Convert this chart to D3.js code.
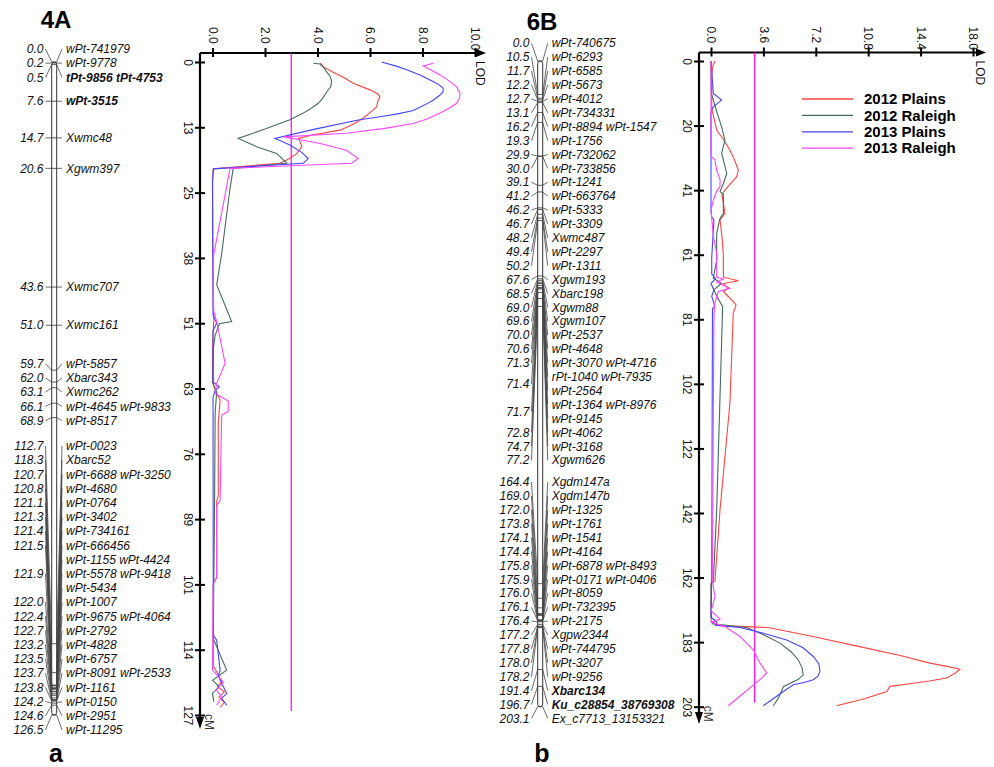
<!DOCTYPE html>
<html lang="en">
<head>
<meta charset="UTF-8">
<title>QTL for 4A and 6B</title>
<script src="https://cdn.jsdelivr.net/npm/d3@7"></script>
<style>
  body { margin: 0; background: #fff; }
  svg text { font-family: Arial, "Liberation Sans", sans-serif; }
  .mk { font-size: 12px; font-style: italic; fill: #111; }
  .tk { font-size: 12px; fill: #111; }
</style>
</head>
<body>
<svg id="chart" width="994" height="767"></svg>
<script>
// ---- linkage maps: [cM, marker row] ----
const map4A = [
  [0.0, "wPt-741979"], [0.2, "wPt-9778"], [0.5, "tPt-9856 tPt-4753"], [7.6, "wPt-3515"],
  [14.7, "Xwmc48"], [20.6, "Xgwm397"], [43.6, "Xwmc707"], [51.0, "Xwmc161"],
  [59.7, "wPt-5857"], [62.0, "Xbarc343"], [63.1, "Xwmc262"], [66.1, "wPt-4645 wPt-9833"],
  [68.9, "wPt-8517"], [112.7, "wPt-0023"], [118.3, "Xbarc52"], [120.7, "wPt-6688 wPt-3250"],
  [120.8, "wPt-4680"], [121.1, "wPt-0764"], [121.3, "wPt-3402"], [121.4, "wPt-734161"],
  [121.5, "wPt-666456"], [121.9, "wPt-1155 wPt-4424"], [121.9, "wPt-5578 wPt-9418"],
  [121.9, "wPt-5434"], [122.0, "wPt-1007"], [122.4, "wPt-9675 wPt-4064"], [122.7, "wPt-2792"],
  [123.2, "wPt-4828"], [123.5, "wPt-6757"], [123.7, "wPt-8091 wPt-2533"], [123.8, "wPt-1161"],
  [124.2, "wPt-0150"], [124.6, "wPt-2951"], [126.5, "wPt-11295"]
];
const bold4A = ["tPt-9856 tPt-4753", "wPt-3515"];

const map6B = [
  [0.0, "wPt-740675"], [10.5, "wPt-6293"], [11.7, "wPt-6585"], [12.2, "wPt-5673"],
  [12.7, "wPt-4012"], [13.1, "wPt-734331"], [16.2, "wPt-8894 wPt-1547"], [19.3, "wPt-1756"],
  [29.9, "wPt-732062"], [30.0, "wPt-733856"], [39.1, "wPt-1241"], [41.2, "wPt-663764"],
  [46.2, "wPt-5333"], [46.7, "wPt-3309"], [48.2, "Xwmc487"], [49.4, "wPt-2297"],
  [50.2, "wPt-1311"], [67.6, "Xgwm193"], [68.5, "Xbarc198"], [69.0, "Xgwm88"],
  [69.6, "Xgwm107"], [70.0, "wPt-2537"], [70.6, "wPt-4648"], [71.3, "wPt-3070 wPt-4716"],
  [71.4, "rPt-1040 wPt-7935"], [71.4, "wPt-2564"], [71.7, "wPt-1364 wPt-8976"], [71.7, "wPt-9145"],
  [72.8, "wPt-4062"], [74.7, "wPt-3168"], [77.2, "Xgwm626"], [164.4, "Xgdm147a"],
  [169.0, "Xgdm147b"], [172.0, "wPt-1325"], [173.8, "wPt-1761"], [174.1, "wPt-1541"],
  [174.4, "wPt-4164"], [175.8, "wPt-6878 wPt-8493"], [175.9, "wPt-0171 wPt-0406"], [176.0, "wPt-8059"],
  [176.1, "wPt-732395"], [176.4, "wPt-2175"], [177.2, "Xgpw2344"], [177.8, "wPt-744795"],
  [178.0, "wPt-3207"], [178.2, "wPt-9256"], [191.4, "Xbarc134"], [196.7, "Ku_c28854_38769308"],
  [203.1, "Ex_c7713_13153321"]
];
const bold6B = ["Xbarc134", "Ku_c28854_38769308"];

// ---- LOD profiles: [cM, LOD] ----
const lod4A_p12 = [[0.2,4.1],[1,4.25],[2,4.6],[3,5.0],[4.1,5.36],[5.4,6.0],[6.2,6.3],[6.7,6.38],[7.6,6.3],[8.7,6.25],[9.8,6.0],[11.1,5.68],[12.2,5.3],[13.2,4.86],[14.1,3.84],[14.8,3.27],[15.6,3.35],[16.4,3.4],[17.8,3.2],[18.8,2.9],[19.6,2.57],[20.7,0.03],[23.2,0],[40,0.02],[50,0.05],[55,0],[62,0],[63.5,0.1],[65.5,0.29],[70,0.22],[84,0.22],[85,0.16],[99.8,0.16],[101,0.03],[117,0.03],[118.5,0.2],[120,0.35],[121,0.2],[122,0.45],[123,0.25],[124,0.45],[125,0.3]];
const lod4A_r12 = [[0.25,3.84],[0.4,4.1],[1.2,4.25],[1.9,4.35],[2.8,4.48],[3.8,4.54],[4.8,4.5],[5.8,4.35],[7,4.2],[8.0,4.03],[9,3.75],[9.9,3.46],[11.2,2.95],[13,2.0],[14.8,0.98],[16.4,1.68],[17.7,2.44],[19.6,2.83],[20.6,0.79],[24.8,0.66],[37.1,0.35],[43.2,0.16],[50.3,0.73],[50.7,0.26],[53,0.1],[55.6,0.03],[62.2,0.02],[64,0.16],[68,0.1],[85,0.08],[111.7,0.03],[117.8,0.54],[119.8,0],[121,0.25],[122.3,0],[123.9,0.05]];
const lod4A_p13 = [[0,6.44],[0.8,7.0],[1.5,7.4],[2.5,7.9],[3.5,8.29],[4.3,8.6],[5.1,8.79],[5.8,8.78],[6.4,8.67],[7.4,8.41],[8.4,8.05],[9.4,7.65],[10,7.1],[10.6,6.38],[11.2,5.6],[13,3.9],[14.8,2.38],[16.1,2.95],[17.5,3.4],[18.7,3.65],[19.6,3.46],[20.7,0.03],[23.2,0],[49,0.02],[50.6,0.16],[52,0.02],[62,0.02],[62.9,0.26],[63.6,0.1],[65,0.02],[111,0.03],[112,0.16],[117.8,0.29],[119,0.22],[122.3,0.54],[123.3,0.35],[124.6,0.54]];
const lod4A_r13 = [[0.25,8.41],[0.77,8.03],[1.5,8.3],[2.5,8.67],[3.6,9.0],[4.8,9.3],[6.1,9.43],[7.1,9.4],[8.0,9.3],[9.0,9.0],[9.9,8.67],[11,8.2],[11.9,7.65],[12.9,6.5],[13.8,5.1],[14.5,2.7],[15.2,3.5],[15.8,4.1],[17.1,5.1],[18.7,5.55],[19.6,5.3],[20.6,0.67],[37.8,0.03],[48,0.03],[50.3,0.16],[58.4,0.48],[62.2,0.16],[64.2,0.1],[65.7,0.6],[67.7,0.6],[68.4,0.35],[84.9,0.29],[86,0.16],[100,0.16],[101,0.03],[117.8,0],[120.1,0.41],[121.7,0.16],[123,0.35],[124.6,0.16]];

const lod6B_p12 = [[0,0.27],[2,0.1],[5,0.05],[15,0.05],[21.7,0.39],[25,0.9],[28,1.3],[31,1.6],[34.3,1.88],[36.4,1.76],[40.6,0.96],[42,0.75],[44.7,0.85],[47.9,0.96],[50,0.62],[55,0.75],[61,0.85],[68,0.85],[69.1,1.88],[70,0.85],[71.5,1.19],[72.5,0.85],[75.7,1.53],[76.7,1.72],[79.3,1.53],[107.6,1.3],[141.2,0.62],[163.7,0.27],[164,0.02],[176.5,0.02],[177.6,0.6],[178.2,3.94],[181,7.0],[184.2,10.2],[187,13.0],[189.4,15.04],[190.5,16.3],[191.3,17.1],[192.5,16.8],[194.1,16.19],[195,15.0],[195.7,13.9],[196.7,12.3],[198.3,12.07],[200.5,10.6],[202.8,8.63]];
const lod6B_r12 = [[0,0],[10,0.02],[12.3,0.16],[16,0.4],[20.7,0.73],[24.9,0.96],[29,0.73],[35.3,1.08],[38,0.9],[41.1,0.62],[42,0.85],[47.9,0.85],[49.5,0.62],[54.2,0.39],[62.6,0.39],[68.3,0.16],[69.9,0.73],[72,0.2],[74,0.4],[77.3,0.8],[141.2,0.39],[163.7,0.16],[164.5,0],[175,0],[176,0.3],[177,0.1],[178.2,2.45],[180.5,3.6],[183.1,4.74],[185.8,5.5],[188.4,6.0],[190.8,6.25],[193.1,6.34],[194.5,6.0],[196.8,4.97],[200.5,4.62],[202.8,4.28]];
const lod6B_p13 = [[0,0],[10.2,0.16],[12.3,0.73],[14.4,0.16],[16,0],[47,0],[49,0.05],[50,0.2],[62,0.05],[67,0.05],[68.5,0.3],[70,0],[72,0.2],[74,0.05],[77,0.25],[78,0.1],[163,0.05],[175,0],[176.5,0.4],[177.5,0.3],[178.2,1.99],[180,3.6],[182.1,5.2],[184.5,6.3],[187.3,7.03],[189.5,7.4],[192,7.49],[193.5,7.35],[194.6,7.03],[195.5,6.4],[196.2,5.65],[198.3,4.97],[202.8,3.59]];
const lod6B_r13 = [[0,0],[30,0],[31.1,0.27],[34.3,0.39],[37.4,0.62],[39.5,0.62],[41,0.39],[43.7,0.16],[47,0],[55,0.16],[60.5,0.39],[68,0.39],[68.6,0.85],[69.5,0.39],[71.5,1.3],[72.5,0.5],[76.2,0.27],[80,0.2],[160,0.1],[165,0.15],[168.4,0.27],[170.5,0.16],[173,0],[175.5,0.62],[176.5,0],[177.9,0.96],[181,1.99],[185.2,2.9],[189.4,3.37],[192.5,3.83],[194.1,3.48],[202.8,1.19]];

const seriesNames = ["2012 Plains", "2012 Raleigh", "2013 Plains", "2013 Raleigh"];
const seriesColors = ["#ff4444", "#456b5a", "#4444ff", "#ff44ff"];
const lodTicks4A = [0, 2, 4, 6, 8, 10];
const lodTicks6B = [0, 3.6, 7.2, 10.8, 14.4, 18];
const cmTicks4A = [0, 13, 25, 38, 51, 63, 76, 89, 101, 114, 127];
const cmTicks6B = [0, 20, 41, 61, 81, 102, 122, 142, 162, 183, 203];
const lodThreshold = 3.0;

const svg = d3.select("#chart");

// spread label blocks so they do not overlap (cluster and centre, then clamp)
function spreadLabels(blocks, top, bottom) {
  const place = cl => {
    let off = 0, sum = 0;
    cl.forEach(b => { b.off = off + b.h / 2; off += b.h; sum += b.y - b.off; });
    let t = sum / cl.length;
    t = Math.min(Math.max(t, top), bottom - off);
    cl.t = t; cl.H = off;
    return cl;
  };
  let clusters = blocks.map(b => place([b]));
  let merged = true;
  while (merged) {
    merged = false;
    for (let i = 0; i < clusters.length - 1; i++) {
      const a = clusters[i], b = clusters[i + 1];
      if (a.t + a.H > b.t + 0.01) {
        clusters.splice(i, 2, place(a.concat(b)));
        merged = true;
        break;
      }
    }
  }
  clusters.forEach(cl => cl.forEach(b => { b.ly = cl.t + b.off; }));
}

function drawMap(o) {
  const g = svg.append("g");
  const y = o.y;
  const loci = d3.groups(o.rows, d => d[0]).map(([cM, rs]) => ({
    cM, names: rs.map(r => r[1]), y: y(cM), h: rs.length * o.rowH
  }));
  spreadLabels(loci, y(0) - o.padTop, y(o.max) + o.padBottom);

  g.append("text").attr("x", o.titleX).attr("y", o.titleY)
    .attr("text-anchor", "middle").style("font-size", "24px").style("font-weight", "bold")
    .text(o.title);

  const bx = o.barX, bw = 5;
  g.append("rect").attr("x", bx).attr("y", y(0)).attr("width", bw)
    .attr("height", y(o.max) - y(0)).attr("rx", 2.5)
    .attr("fill", "#fff").attr("stroke", "#333").attr("stroke-width", 1);

  loci.forEach(l => {
    g.append("line").attr("x1", bx).attr("x2", bx + bw).attr("y1", l.y).attr("y2", l.y)
      .attr("stroke", "#333").attr("stroke-width", 0.8);
    g.append("line").attr("x1", o.numX + 2).attr("y1", l.ly).attr("x2", bx).attr("y2", l.y)
      .attr("stroke", "#444").attr("stroke-width", 0.8);
    g.append("text").attr("class", "mk").attr("x", o.numX).attr("y", l.ly).attr("dy", "0.35em")
      .attr("text-anchor", "end").text(l.cM.toFixed(1));
    l.names.forEach((nm, k) => {
      const ry = l.ly - l.h / 2 + (k + 0.5) * o.rowH;
      g.append("line").attr("x1", bx + bw).attr("y1", l.y).attr("x2", o.nameX - 4).attr("y2", ry)
        .attr("stroke", "#444").attr("stroke-width", 0.8);
      g.append("text").attr("class", "mk").attr("x", o.nameX).attr("y", ry).attr("dy", "0.35em")
        .style("font-weight", o.bold.includes(nm) ? "bold" : "normal").text(nm);
    });
  });

  g.append("text").attr("x", o.titleX).attr("y", 762)
    .attr("text-anchor", "middle").style("font-size", "25px").style("font-weight", "bold")
    .text(o.panel);
}

function drawLod(o) {
  const g = svg.append("g");
  const x = d3.scaleLinear().domain([0, o.lodMax]).range(o.xRange);
  const y = o.y;
  const ax = o.axisX, ay = o.axisY;

  // LOD axis (top)
  const xAxis = d3.axisTop(x).tickValues(o.lodTicks).tickFormat(d3.format(".1f")).tickSizeOuter(0);
  const gx = g.append("g").attr("transform", `translate(0,${ay})`).call(xAxis);
  gx.select(".domain").remove();
  gx.selectAll(".tick line").attr("y1", 4).attr("y2", -5).attr("stroke", "#000").attr("stroke-width", 2);
  gx.selectAll(".tick text").attr("class", "tk").attr("transform", "rotate(90)")
    .attr("x", -26).attr("y", 0).attr("dy", "0.35em").attr("text-anchor", "start");

  // cM axis (left)
  const step = o.max / (o.cmTicks.length - 1);
  const yAxis = d3.axisLeft(y).tickValues(o.cmTicks.map((d, i) => i * step))
    .tickFormat((d, i) => o.cmTicks[i]).tickSizeOuter(0);
  const gy = g.append("g").attr("transform", `translate(${ax},0)`).call(yAxis);
  gy.select(".domain").remove();
  gy.selectAll(".tick line").attr("x1", -5).attr("x2", 5).attr("stroke", "#000").attr("stroke-width", 2);
  gy.selectAll(".tick text").attr("class", "tk").attr("transform", "rotate(90)")
    .attr("x", 0).attr("y", 12).attr("dy", "0.35em").attr("text-anchor", "middle");

  // axis lines with arrows
  g.append("line").attr("x1", ax).attr("y1", ay).attr("x2", o.xTip - 6).attr("y2", ay)
    .attr("stroke", "#000").attr("stroke-width", 2.2);
  g.append("path").attr("d", `M${o.xTip},${ay} L${o.xTip - 10},${ay - 4} L${o.xTip - 10},${ay + 4} Z`)
    .attr("fill", "#000");
  g.append("line").attr("x1", ax).attr("y1", ay).attr("x2", ax).attr("y2", o.yTip - 6)
    .attr("stroke", "#000").attr("stroke-width", 2.2);
  g.append("path").attr("d", `M${ax},${o.yTip} L${ax - 4},${o.yTip - 12} L${ax + 4},${o.yTip - 12} Z`)
    .attr("fill", "#000");

  g.append("text").attr("class", "tk").attr("transform", `translate(${o.xTip - 6},${ay + 8}) rotate(90)`)
    .attr("dy", "0.35em").text("LOD");
  g.append("text").attr("class", "tk").attr("transform", `translate(${ax + 9},${y(o.max) - 1}) rotate(90)`)
    .attr("dy", "0.35em").style("fill", "#333").text("cM");

  // threshold
  g.append("line").attr("x1", x(lodThreshold)).attr("x2", x(lodThreshold))
    .attr("y1", ay).attr("y2", y(o.max) - 4)
    .attr("stroke", "#ff00ff").attr("stroke-width", 1.2);

  // profiles
  const line = d3.line().x(d => x(d[1])).y(d => y(d[0]));
  o.series.forEach((s, i) => {
    g.append("path").attr("d", line(s)).attr("fill", "none")
      .attr("stroke", seriesColors[i]).attr("stroke-width", 1.1);
  });

  if (o.legend) {
    const lg = g.append("g");
    seriesNames.forEach((nm, i) => {
      const ly = 99 + i * 16.4;
      lg.append("line").attr("x1", 802).attr("x2", 853).attr("y1", ly).attr("y2", ly)
        .attr("stroke", seriesColors[i]).attr("stroke-width", 1.3);
      lg.append("text").attr("x", 864).attr("y", ly).attr("dy", "0.35em")
        .style("font-size", "15px").style("font-weight", "bold").text(nm);
    });
  }
}

// ---- 4A ----
const y4A = d3.scaleLinear().domain([0, 126.5]).range([62, 715]);
drawMap({ title: "4A", panel: "a", titleX: 56, titleY: 28, rows: map4A, bold: bold4A, y: y4A, max: 126.5,
  rowH: 14.2, padTop: 25, padBottom: 22, barX: 51.7, numX: 43.5, nameX: 66 });
drawLod({ y: y4A, max: 126.5, lodMax: 10, xRange: [212.5, 475], axisX: 200, axisY: 53,
  xTip: 486, yTip: 729, lodTicks: lodTicks4A, cmTicks: cmTicks4A,
  series: [lod4A_p12, lod4A_r12, lod4A_p13, lod4A_r13], legend: false });

// ---- 6B ----
const y6B = d3.scaleLinear().domain([0, 203.1]).range([61, 706.7]);
drawMap({ title: "6B", panel: "b", titleX: 542, titleY: 30, rows: map6B, bold: bold6B, y: y6B, max: 203.1,
  rowH: 13.9, padTop: 24.7, padBottom: 18.6, barX: 537.7, numX: 529.5, nameX: 551.7 });
drawLod({ y: y6B, max: 203.1, lodMax: 18, xRange: [711, 973], axisX: 699, axisY: 52.5,
  xTip: 986, yTip: 724, lodTicks: lodTicks6B, cmTicks: cmTicks6B,
  series: [lod6B_p12, lod6B_r12, lod6B_p13, lod6B_r13], legend: true });
</script>
</body>
</html>
